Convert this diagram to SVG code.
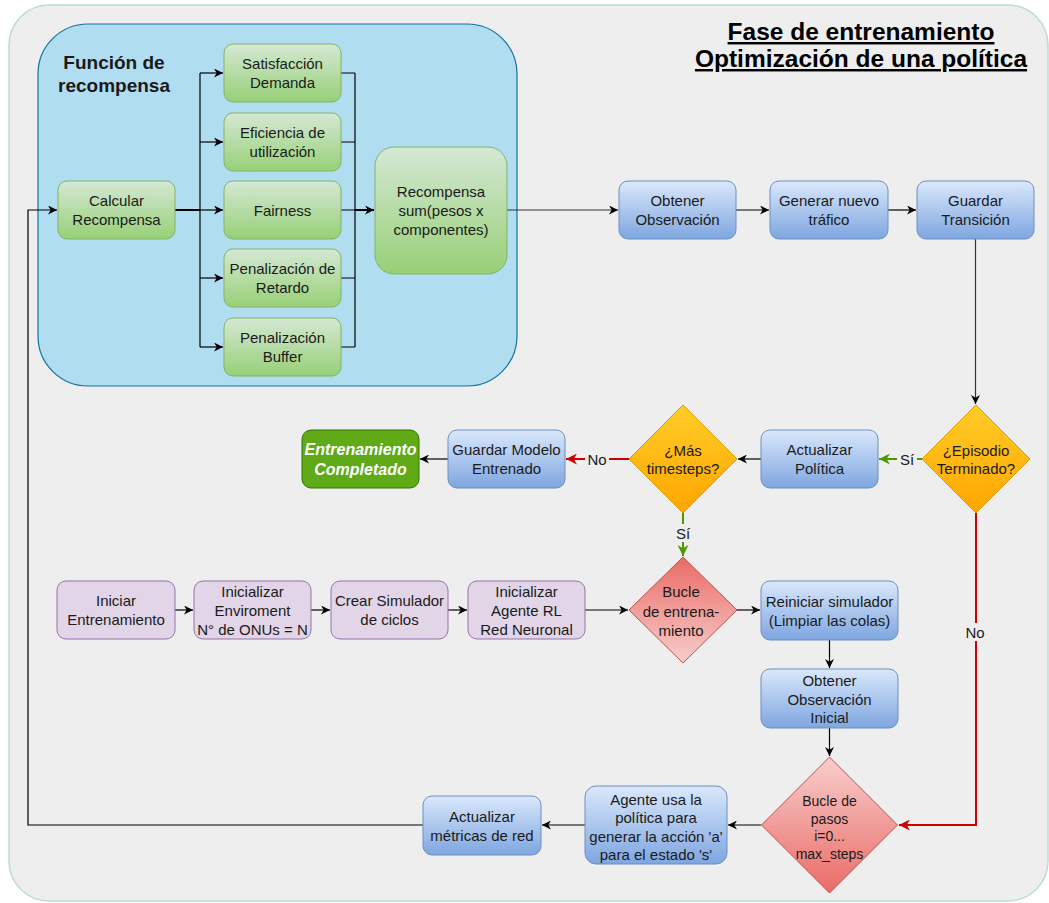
<svg xmlns="http://www.w3.org/2000/svg" width="1049" height="903" viewBox="0 0 1049 903">
  <defs>
    <style>
      .t{font-family:"Liberation Sans",Arial,sans-serif;font-size:15px;fill:#1a1a1a;text-anchor:middle}
      .s14{font-size:14px}
      .lbl{font-family:"Liberation Sans",Arial,sans-serif;font-size:15px;fill:#1a1a1a;text-anchor:middle}
      .green{fill:url(#gGreen);stroke:#82b366;stroke-width:1}
      .blue{fill:url(#gBlue);stroke:#6c8ebf;stroke-width:1}
      .purple{fill:#e1d5e7;stroke:#9673a6;stroke-width:1}
      .orange{fill:url(#gOrange);stroke:#d79b00;stroke-width:1}
      .redUp{fill:url(#gRedUp);stroke:#b85450;stroke-width:1}
      .redDown{fill:url(#gRedDown);stroke:#b85450;stroke-width:1}
      .done{fill:#60a917;stroke:#2d7600;stroke-width:1}
      .ln{fill:none;stroke:#000;stroke-width:1.2}
      .ln2{fill:none;stroke:#000;stroke-width:2}
      .lnGray{fill:none;stroke:#333;stroke-width:1.2}
      .lnRed{fill:none;stroke:#cc0000;stroke-width:2}
      .lnGreen{fill:none;stroke:#4d9900;stroke-width:2}
      .a{marker-end:url(#arrK)}
      .aR{marker-end:url(#arrR)}
      .aG{marker-end:url(#arrG)}
      .bg{fill:#eeeeee}
    </style>
    <linearGradient id="gGreen" x1="0" y1="0" x2="0" y2="1">
      <stop offset="0" stop-color="#d5e8d4"/>
      <stop offset="1" stop-color="#97d077"/>
    </linearGradient>
    <linearGradient id="gBlue" x1="0" y1="0" x2="0" y2="1">
      <stop offset="0" stop-color="#dae8fc"/>
      <stop offset="1" stop-color="#7ea6e0"/>
    </linearGradient>
    <linearGradient id="gOrange" x1="0" y1="0" x2="0" y2="1">
      <stop offset="0" stop-color="#ffcd28"/>
      <stop offset="1" stop-color="#ffa500"/>
    </linearGradient>
    <linearGradient id="gRedUp" x1="0" y1="0" x2="0" y2="1">
      <stop offset="0" stop-color="#ea6b66"/>
      <stop offset="1" stop-color="#f8cecc"/>
    </linearGradient>
    <linearGradient id="gRedDown" x1="0" y1="0" x2="0" y2="1">
      <stop offset="0" stop-color="#f8cecc"/>
      <stop offset="1" stop-color="#ea6b66"/>
    </linearGradient>
    <marker id="arrK" viewBox="0 0 10 10" refX="10" refY="5" markerWidth="9" markerHeight="9" markerUnits="userSpaceOnUse" orient="auto">
      <path d="M0,0 L10,5 L0,10 L3,5 z" fill="#000"/>
    </marker>
    <marker id="arrR" viewBox="0 0 10 10" refX="10" refY="5" markerWidth="11" markerHeight="11" markerUnits="userSpaceOnUse" orient="auto">
      <path d="M0,0 L10,5 L0,10 L3,5 z" fill="#cc0000"/>
    </marker>
    <marker id="arrG" viewBox="0 0 10 10" refX="10" refY="5" markerWidth="11" markerHeight="11" markerUnits="userSpaceOnUse" orient="auto">
      <path d="M0,0 L10,5 L0,10 L3,5 z" fill="#4d9900"/>
    </marker>
  </defs>

  <!-- outer frame -->
  <rect x="9" y="5" width="1039" height="896" rx="40" fill="#eeeeee" stroke="#b9ddd6" stroke-width="1.5"/>

  <!-- title -->
  <g id="title" font-family="'Liberation Sans',Arial,sans-serif" font-weight="bold" font-size="24.5" text-anchor="middle" fill="#000">
    <text x="861" y="40" text-decoration="underline">Fase de entrenamiento</text>
    <text x="861" y="67" text-decoration="underline">Optimización de una política</text>
  </g>

  <!-- reward function container -->
  <g id="reward-function">
    <rect x="38" y="24" width="479" height="362" rx="50" fill="#b1ddf0" stroke="#10739e" stroke-width="1.2"/>
    <text x="114" y="69" font-family="'Liberation Sans',Arial,sans-serif" font-weight="bold" font-size="19" text-anchor="middle" fill="#1a1a1a">Función de</text>
    <text x="114" y="91.5" font-family="'Liberation Sans',Arial,sans-serif" font-weight="bold" font-size="19" text-anchor="middle" fill="#1a1a1a">recompensa</text>
  </g>

  <!-- connectors -->
  <g id="connectors">
    <!-- fan-out to reward components -->
    <path class="ln2" d="M175,210 H200"/>
    <path class="ln" d="M200,73 V347"/>
    <path class="ln a" d="M200,73 H223"/>
    <path class="ln a" d="M200,142 H223"/>
    <path class="ln a" d="M200,210 H223"/>
    <path class="ln a" d="M200,278 H223"/>
    <path class="ln a" d="M200,347 H223"/>
    <!-- fan-in to weighted sum -->
    <path class="ln" d="M341,73 H355 M341,142 H355 M341,210 H355 M341,278 H355 M341,347 H355"/>
    <path class="ln" d="M355,73 V347"/>
    <path class="ln2 a" d="M355,210 H374"/>
    <!-- main step chain -->
    <path class="lnGray a" d="M507,210 H618"/>
    <path class="ln a" d="M736,210 H769"/>
    <path class="ln a" d="M888,210 H916"/>
    <path class="lnGray a" d="M975.5,239 V404"/>
    <path class="lnGreen aG" d="M922,459 H879"/>
    <path class="ln a" d="M761,459 H738"/>
    <path class="lnRed aR" d="M629,459 H566"/>
    <path class="ln a" d="M448,459 H420"/>
    <path class="lnGreen aG" d="M683,513 V556"/>
    <!-- initialisation chain -->
    <path class="ln a" d="M175,610 H193"/>
    <path class="ln a" d="M311,610 H330"/>
    <path class="ln a" d="M448,610 H467"/>
    <path class="ln a" d="M585,610 H628"/>
    <path class="ln a" d="M737,610 H760"/>
    <path class="ln a" d="M829.5,640 V668"/>
    <path class="ln a" d="M829.5,728 V756"/>
    <!-- step loop -->
    <path class="lnRed aR" d="M976,513 V825 H899"/>
    <path class="ln a" d="M761,825 H728"/>
    <path class="ln a" d="M585,825 H542"/>
    <path class="ln a" d="M423,825 H28 V210 H57"/>
    <!-- edge labels -->
    <rect class="bg" x="897" y="450" width="20" height="18"/>
    <text class="lbl" x="907" y="464.5">Sí</text>
    <rect class="bg" x="585" y="450" width="24" height="18"/>
    <text class="lbl" x="597" y="464.5">No</text>
    <rect class="bg" x="673" y="524" width="20" height="18"/>
    <text class="lbl" x="683" y="538.5">Sí</text>
    <rect class="bg" x="963" y="623" width="24" height="18"/>
    <text class="lbl" x="975" y="637.5">No</text>
  </g>

  <!-- nodes -->
  <g id="calcular-recompensa">
    <rect class="green" x="58" y="181" width="117" height="58" rx="9"/>
    <text class="t" x="116.5" y="205.5">Calcular</text>
    <text class="t" x="116.5" y="224.5">Recompensa</text>
  </g>
  <g id="satisfaccion-demanda">
    <rect class="green" x="224" y="44" width="117" height="58" rx="9"/>
    <text class="t" x="282.5" y="68.5">Satisfacción</text>
    <text class="t" x="282.5" y="87.5">Demanda</text>
  </g>
  <g id="eficiencia">
    <rect class="green" x="224" y="113" width="117" height="58" rx="9"/>
    <text class="t" x="282.5" y="137.5">Eficiencia de</text>
    <text class="t" x="282.5" y="156.5">utilización</text>
  </g>
  <g id="fairness">
    <rect class="green" x="224" y="181" width="117" height="58" rx="9"/>
    <text class="t" x="282.5" y="215.5">Fairness</text>
  </g>
  <g id="penalizacion-retardo">
    <rect class="green" x="224" y="249" width="117" height="58" rx="9"/>
    <text class="t" x="282.5" y="273.5">Penalización de</text>
    <text class="t" x="282.5" y="292.5">Retardo</text>
  </g>
  <g id="penalizacion-buffer">
    <rect class="green" x="224" y="318" width="117" height="58" rx="9"/>
    <text class="t" x="282.5" y="342.5">Penalización</text>
    <text class="t" x="282.5" y="361.5">Buffer</text>
  </g>
  <g id="recompensa-suma">
    <rect class="green" x="375" y="147" width="132" height="127" rx="19"/>
    <text class="t" x="441" y="197">Recompensa</text>
    <text class="t" x="441" y="216">sum(pesos x</text>
    <text class="t" x="441" y="235">componentes)</text>
  </g>

  <g id="obtener-observacion">
    <rect class="blue" x="619" y="181" width="117" height="58" rx="9"/>
    <text class="t" x="677.5" y="205.5">Obtener</text>
    <text class="t" x="677.5" y="224.5">Observación</text>
  </g>
  <g id="generar-trafico">
    <rect class="blue" x="770" y="181" width="118" height="58" rx="9"/>
    <text class="t" x="829" y="205.5">Generar nuevo</text>
    <text class="t" x="829" y="224.5">tráfico</text>
  </g>
  <g id="guardar-transicion">
    <rect class="blue" x="917" y="181" width="117" height="58" rx="9"/>
    <text class="t" x="975.5" y="205.5">Guardar</text>
    <text class="t" x="975.5" y="224.5">Transición</text>
  </g>

  <g id="episodio-terminado">
    <path class="orange" d="M976,405 L1030,459 L976,513 L922,459 Z"/>
    <text class="t" x="976" y="455.5">¿Episodio</text>
    <text class="t" x="976" y="474">Terminado?</text>
  </g>
  <g id="actualizar-politica">
    <rect class="blue" x="761" y="430" width="117" height="58" rx="9"/>
    <text class="t" x="819.5" y="454.5">Actualizar</text>
    <text class="t" x="819.5" y="473.5">Política</text>
  </g>
  <g id="mas-timesteps">
    <path class="orange" d="M683,405 L737,459 L683,513 L629,459 Z"/>
    <text class="t" x="683" y="455.5">¿Más</text>
    <text class="t" x="683" y="474">timesteps?</text>
  </g>
  <g id="guardar-modelo">
    <rect class="blue" x="448" y="430" width="117" height="58" rx="9"/>
    <text class="t" x="506.5" y="454.5">Guardar Modelo</text>
    <text class="t" x="506.5" y="473.5">Entrenado</text>
  </g>
  <g id="entrenamiento-completado">
    <rect class="done" x="302" y="430" width="117" height="58" rx="9"/>
    <text class="t" x="360.5" y="455" style="fill:#ffffff;font-weight:bold;font-style:italic;font-size:16px">Entrenamiento</text>
    <text class="t" x="360.5" y="475" style="fill:#ffffff;font-weight:bold;font-style:italic;font-size:16px">Completado</text>
  </g>

  <g id="iniciar-entrenamiento">
    <rect class="purple" x="57" y="581" width="118" height="58" rx="9"/>
    <text class="t" x="116" y="605.5">Iniciar</text>
    <text class="t" x="116" y="624.5">Entrenamiento</text>
  </g>
  <g id="inicializar-enviroment">
    <rect class="purple" x="194" y="581" width="117" height="58" rx="9"/>
    <text class="t" x="252.5" y="597">Inicializar</text>
    <text class="t" x="252.5" y="616">Enviroment</text>
    <text class="t" x="252.5" y="635">N° de ONUs = N</text>
  </g>
  <g id="crear-simulador">
    <rect class="purple" x="331" y="581" width="117" height="58" rx="9"/>
    <text class="t" x="389.5" y="605.5">Crear Simulador</text>
    <text class="t" x="389.5" y="624.5">de ciclos</text>
  </g>
  <g id="inicializar-agente">
    <rect class="purple" x="468" y="581" width="117" height="58" rx="9"/>
    <text class="t" x="526.5" y="597">Inicializar</text>
    <text class="t" x="526.5" y="616">Agente RL</text>
    <text class="t" x="526.5" y="635">Red Neuronal</text>
  </g>
  <g id="bucle-entrenamiento">
    <path class="redUp" d="M683,557 L737,610 L683,663 L629,610 Z"/>
    <text class="t" x="681" y="597">Bucle</text>
    <text class="t" x="681" y="617">de entrena-</text>
    <text class="t" x="681" y="635.5">miento</text>
  </g>
  <g id="reiniciar-simulador">
    <rect class="blue" x="761" y="581" width="137" height="59" rx="9"/>
    <text class="t" x="829.5" y="606.5">Reiniciar simulador</text>
    <text class="t" x="829.5" y="625.5">(Limpiar las colas)</text>
  </g>
  <g id="obtener-observacion-inicial">
    <rect class="blue" x="761" y="669" width="137" height="59" rx="9"/>
    <text class="t" x="829.5" y="686">Obtener</text>
    <text class="t" x="829.5" y="704.5">Observación</text>
    <text class="t" x="829.5" y="723">Inicial</text>
  </g>
  <g id="bucle-pasos">
    <path class="redDown" d="M829.5,757 L897.5,825 L829.5,893 L761.5,825 Z"/>
    <text class="t s14" x="829.5" y="806">Bucle de</text>
    <text class="t s14" x="829.5" y="823.5">pasos</text>
    <text class="t s14" x="829.5" y="841">i=0...</text>
    <text class="t s14" x="829.5" y="858.5">max_steps</text>
  </g>
  <g id="agente-accion">
    <rect class="blue" x="585" y="786" width="142" height="78" rx="11"/>
    <text class="t" x="656" y="804.5">Agente usa la</text>
    <text class="t" x="656" y="823">política para</text>
    <text class="t" x="656" y="841.5">generar la acción 'a'</text>
    <text class="t" x="656" y="860">para el estado 's'</text>
  </g>
  <g id="actualizar-metricas">
    <rect class="blue" x="423" y="796" width="118" height="59" rx="9"/>
    <text class="t" x="482" y="822">Actualizar</text>
    <text class="t" x="482" y="841">métricas de red</text>
  </g>
</svg>
